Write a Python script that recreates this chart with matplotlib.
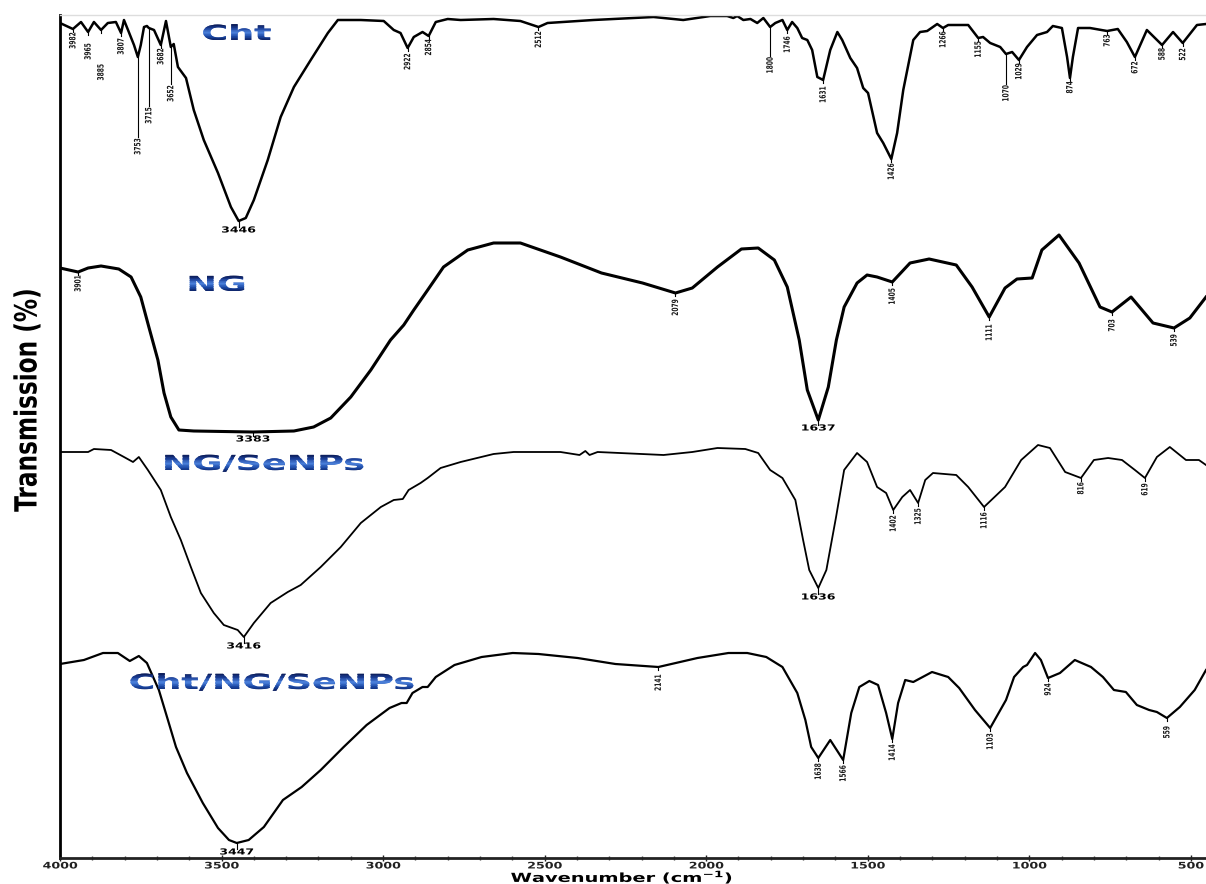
import numpy as np
import matplotlib
matplotlib.use('Agg')
import matplotlib.pyplot as plt
from matplotlib.patheffects import AbstractPathEffect
from matplotlib.transforms import Affine2D, Bbox
from matplotlib.colors import LinearSegmentedColormap

# ---- data: wavenumber (cm-1) and stacked transmission (a.u.) ----
cht_wn = [4000, 3960, 3935, 3913, 3895, 3873, 3852, 3827, 3811, 3802,
          3787, 3771, 3759, 3750, 3740, 3731, 3725, 3709, 3688, 3672,
          3657, 3648, 3635, 3610, 3586, 3555, 3511, 3471, 3447, 3425,
          3400, 3357, 3317, 3276, 3224, 3171, 3140, 3069, 2998, 2967,
          2946, 2924, 2905, 2878, 2859, 2837, 2800, 2760, 2658, 2575,
          2519, 2491, 2349, 2163, 2071, 1987, 1935, 1916, 1904, 1885,
          1863, 1842, 1823, 1802, 1786, 1764, 1749, 1734, 1718, 1703,
          1687, 1672, 1656, 1638, 1616, 1594, 1579, 1554, 1533, 1514,
          1499, 1471, 1452, 1427, 1409, 1390, 1359, 1338, 1316, 1285,
          1267, 1251, 1189, 1158, 1143, 1121, 1090, 1072, 1053, 1032,
          1007, 976, 945, 927, 899, 883, 874, 865, 849, 812,
          759, 726, 698, 673, 636, 589, 555, 525, 481, 453]
cht_t = [835, 829, 836, 826, 836, 828, 835, 836, 825, 838,
         826, 813, 801, 813, 831, 832, 830, 828, 813, 837,
         811, 814, 791, 780, 748, 718, 685, 651, 637, 640,
         658, 698, 741, 771, 798, 825, 838, 838, 837, 828,
         825, 810, 821, 826, 822, 836, 839, 838, 839, 837,
         831, 835, 838, 841, 838, 842, 842, 840, 842, 838,
         839, 835, 840, 831, 835, 838, 828, 836, 830, 820,
         818, 808, 781, 778, 808, 826, 818, 800, 790, 770,
         765, 725, 715, 699, 725, 768, 818, 826, 827, 834,
         830, 833, 833, 820, 821, 815, 811, 804, 806, 798,
         811, 823, 826, 832, 830, 801, 780, 801, 830, 830,
         827, 829, 816, 801, 828, 813, 826, 815, 833, 834]
cht_peak_wn = [3960, 3913, 3873, 3811, 3759, 3725, 3688, 3657, 3447, 2924,
               2859, 2519, 1802, 1749, 1638, 1427, 1267, 1158, 1072, 1032,
               874, 759, 673, 589, 525]
cht_peak_txt = ['3982', '3965', '3885', '3807', '3753', '3715', '3682', '3652',
                '3446', '2922', '2854', '2512', '1800', '1746', '1631', '1426',
                '1266', '1155', '1070', '1029', '874', '763', '672', '588', '522']

ng_wn = [4000, 3944, 3913, 3873, 3818, 3780, 3750, 3725, 3697, 3678,
         3657, 3632, 3586, 3403, 3276, 3215, 3162, 3100, 3038, 2977,
         2936, 2905, 2862, 2813, 2738, 2658, 2575, 2451, 2324, 2197,
         2095, 2043, 1965, 1891, 1839, 1789, 1749, 1712, 1687, 1653,
         1622, 1597, 1573, 1533, 1502, 1471, 1424, 1369, 1310, 1226,
         1177, 1124, 1075, 1038, 991, 961, 908, 846, 781, 744,
         685, 617, 552, 503, 453]
ng_t = [590, 586, 590, 592, 589, 581, 561, 531, 498, 465,
        441, 428, 427, 426, 427, 431, 440, 461, 488, 518,
        533, 548, 568, 591, 608, 615, 615, 601, 585, 575,
        565, 570, 591, 609, 610, 598, 571, 518, 468, 438,
        471, 518, 551, 575, 583, 581, 576, 595, 599, 593,
        571, 541, 570, 579, 580, 608, 623, 595, 551, 546,
        561, 535, 530, 540, 561]
ng_peak_wn = [3944, 3403, 2095, 1653, 1424, 1124, 744, 552]
ng_peak_txt = ['3901', '3383', '2079', '1637', '1405', '1111', '703', '539']

sn_wn = [4000, 3913, 3895, 3842, 3802, 3774, 3756, 3728, 3688, 3657,
         3626, 3595, 3564, 3524, 3493, 3450, 3431, 3400, 3348, 3295,
         3255, 3193, 3131, 3069, 3007, 2967, 2939, 2921, 2884, 2862,
         2822, 2760, 2658, 2596, 2451, 2392, 2374, 2361, 2336, 2132,
         2043, 1965, 1879, 1839, 1802, 1764, 1724, 1700, 1681, 1653,
         1628, 1598, 1573, 1533, 1502, 1471, 1443, 1421, 1393, 1369,
         1344, 1322, 1298, 1226, 1189, 1140, 1075, 1025, 973, 936,
         889, 840, 800, 756, 713, 673, 642, 605, 565, 515,
         475, 453]
sn_t = [406, 406, 409, 408, 401, 396, 401, 388, 368, 341,
        318, 291, 265, 245, 233, 228, 221, 235, 255, 266,
        273, 291, 311, 335, 351, 358, 359, 368, 375, 380,
        390, 396, 404, 406, 406, 403, 407, 403, 406, 403,
        406, 410, 409, 405, 388, 380, 358, 318, 288, 270,
        288, 341, 388, 405, 396, 371, 365, 348, 361, 368,
        355, 378, 385, 383, 371, 351, 371, 398, 413, 410,
        386, 380, 398, 400, 398, 388, 380, 401, 411, 398,
        398, 393]
sn_peak_wn = [3431, 1653, 1421, 1344, 1140, 840, 642]
sn_peak_txt = ['3416', '1636', '1402', '1325', '1116', '816', '619']

cns_wn = [4000, 3926, 3867, 3821, 3784, 3756, 3731, 3694, 3666, 3641,
          3607, 3558, 3511, 3477, 3453, 3416, 3369, 3310, 3252, 3193,
          3122, 3051, 2980, 2943, 2927, 2909, 2878, 2862, 2837, 2779,
          2695, 2599, 2519, 2398, 2281, 2148, 2027, 1931, 1873, 1814,
          1764, 1718, 1693, 1675, 1653, 1616, 1576, 1551, 1526, 1495,
          1468, 1443, 1424, 1406, 1384, 1359, 1301, 1251, 1217, 1168,
          1121, 1072, 1047, 1019, 1007, 982, 964, 942, 905, 859,
          809, 772, 738, 701, 667, 629, 605, 574, 534, 488, 453]
cns_t = [194, 198, 205, 205, 197, 202, 195, 168, 138, 111,
         85, 55, 30, 18, 15, 18, 31, 58, 71, 88,
         111, 133, 150, 155, 155, 165, 171, 171, 181, 193,
         201, 205, 204, 200, 194, 191, 200, 205, 205, 201,
         191, 165, 138, 111, 100, 118, 98, 145, 171, 177,
         173, 145, 119, 155, 178, 176, 186, 181, 170, 148,
         130, 158, 181, 191, 193, 205, 198, 180, 185, 198,
         191, 181, 168, 166, 153, 148, 146, 140, 151, 168, 188]
cns_peak_wn = [3453, 2148, 1653, 1576, 1424, 1121, 942, 574]
cns_peak_txt = ['3447', '2141', '1638', '1566', '1414', '1103', '924', '559']

names = ['Cht', 'NG', 'NG/SeNPs', 'Cht/NG/SeNPs']
xticks = [4000, 3500, 3000, 2500, 2000, 1500, 1000, 500]

# ---- layout ----
name_pos = [(3453, 824), (3515, 573), (3369, 394), (3344, 175)]
line_w = [1.8, 2.2, 1.3, 1.6]
big_labels = {'3446': 9, '3383': 7, '1637': 8, '3416': 9, '1636': 9, '3447': 9}
gaps = {'3982': 2, '3965': 10, '3885': 33, '3753': 80, '3715': 78, '3682': 2,
        '3652': 37, '2854': 2, '2512': 3, '1800': 29, '1746': 5, '1631': 5,
        '1426': 3, '1266': 2, '1155': 2, '1070': 30, '1029': 2, '874': 2,
        '763': 2, '672': 3, '588': 2, '3901': 2, '2079': 5, '1405': 5,
        '1111': 6, '703': 6, '539': 5, '816': 3, '2141': 6, '559': 7}
long_leaders = {'3753', '3715', '3652', '1800', '1070'}


class Wide(AbstractPathEffect):
    """stretch text along its baseline, optional vertical gradient fill"""
    def __init__(self, sx, colors=None, anchor='center'):
        super().__init__()
        self.sx = sx
        self.anchor = anchor
        self.cmap = LinearSegmentedColormap.from_list('g', colors) if colors else None

    def draw_path(self, renderer, gc, tpath, affine, rgbFace=None):
        ext = tpath.get_extents()
        cx = ext.x1 if self.anchor == 'end' else 0.5 * (ext.x0 + ext.x1)
        aff = Affine2D().translate(-cx, 0).scale(self.sx, 1).translate(cx, 0) + affine
        if self.cmap is None:
            renderer.draw_path(gc, tpath, aff, rgbFace)
            return
        box = tpath.transformed(aff).get_extents()
        n = 24
        for i in range(n):
            g = renderer.new_gc()
            g.copy_properties(gc)
            y0 = box.y0 + box.height * i / n
            y1 = box.y0 + box.height * (i + 1) / n + 0.5
            g.set_clip_rectangle(Bbox([[box.x0 - 2, y0], [box.x1 + 2, y1]]))
            renderer.draw_path(g, tpath, aff, self.cmap((i + 0.5) / n)[:3])
            g.restore()


title_colors = ['#0a1c5c', '#1c4aa8', '#4c82dc', '#1b3f98', '#0a1850']

fig = plt.figure(figsize=(12.06, 8.84), dpi=100)
ax = fig.add_axes([60 / 1206, 26 / 884, 1 - 60 / 1206, 843 / 884])

spectra = [(cht_wn, cht_t, cht_peak_wn, cht_peak_txt),
           (ng_wn, ng_t, ng_peak_wn, ng_peak_txt),
           (sn_wn, sn_t, sn_peak_wn, sn_peak_txt),
           (cns_wn, cns_t, cns_peak_wn, cns_peak_txt)]

for i, (wn, t, pk_wn, pk_txt) in enumerate(spectra):
    wn = np.array(wn)
    t = np.array(t)
    ax.plot(wn, t, color='black', lw=line_w[i], solid_joinstyle='round')
    for p, txt in zip(pk_wn, pk_txt):
        y = np.interp(p, wn[::-1], t[::-1])
        if txt in big_labels:
            g = big_labels[txt]
            ax.plot([p, p], [y, y - g + 3], color='black', lw=0.8)
            ax.text(p, y - g, txt, ha='center', va='center', fontsize=6,
                    fontweight='bold', family='DejaVu Sans',
                    path_effects=[Wide(1.5)])
        else:
            g = gaps.get(txt, 4)
            tick = g if txt in long_leaders else 3
            ax.plot([p, p], [y, y - tick], color='black', lw=0.8)
            ax.text(p, y - g - 1, txt, rotation=90, ha='center', va='top',
                    fontsize=6.3, fontweight='bold', family='DejaVu Sans',
                    color='#1a1a1a', path_effects=[Wide(0.68, anchor='end')])
    ax.text(name_pos[i][0], name_pos[i][1], names[i], ha='center', va='center',
            fontsize=15, fontweight='bold', family='DejaVu Sans', color='#1c3f94',
            path_effects=[Wide(1.75, title_colors)])

ax.set_xlim(4000, 453)
ax.set_ylim(0, 843)
ax.set_xticks(xticks, [str(v) for v in xticks])
ax.set_xticks(np.arange(4000, 452, -100), minor=True)
ax.tick_params(axis='x', which='major', direction='inout', length=4, width=1,
               pad=0.5, labelsize=6.5, colors='#222222')
ax.tick_params(axis='x', which='minor', direction='inout', length=3, width=1,
               colors='#444444')
ax.tick_params(axis='y', left=False, labelleft=False)
for lab in ax.get_xticklabels():
    lab.set_fontweight('bold')
    lab.set_path_effects([Wide(1.4)])

ax.spines['right'].set_visible(False)
ax.spines['top'].set_color('#dddddd')
ax.spines['top'].set_linewidth(1)
ax.spines['left'].set_linewidth(2)
ax.spines['bottom'].set_linewidth(2)
ax.spines['bottom'].set_color('#222222')

fig.text(622 / 1206, 1 - 882 / 884, 'Wavenumber (cm$^{\\mathbf{-1}}$)', ha='center',
         va='baseline', fontsize=9, fontweight='bold', family='DejaVu Sans',
         path_effects=[Wide(1.55)])
fig.text(28 / 1206, 1 - 400 / 884, 'Transmission (%)', rotation=90, ha='center',
         va='center', fontsize=22, fontweight='bold', family='DejaVu Sans',
         path_effects=[Wide(0.76)])

fig.savefig('out.png', dpi=100)
